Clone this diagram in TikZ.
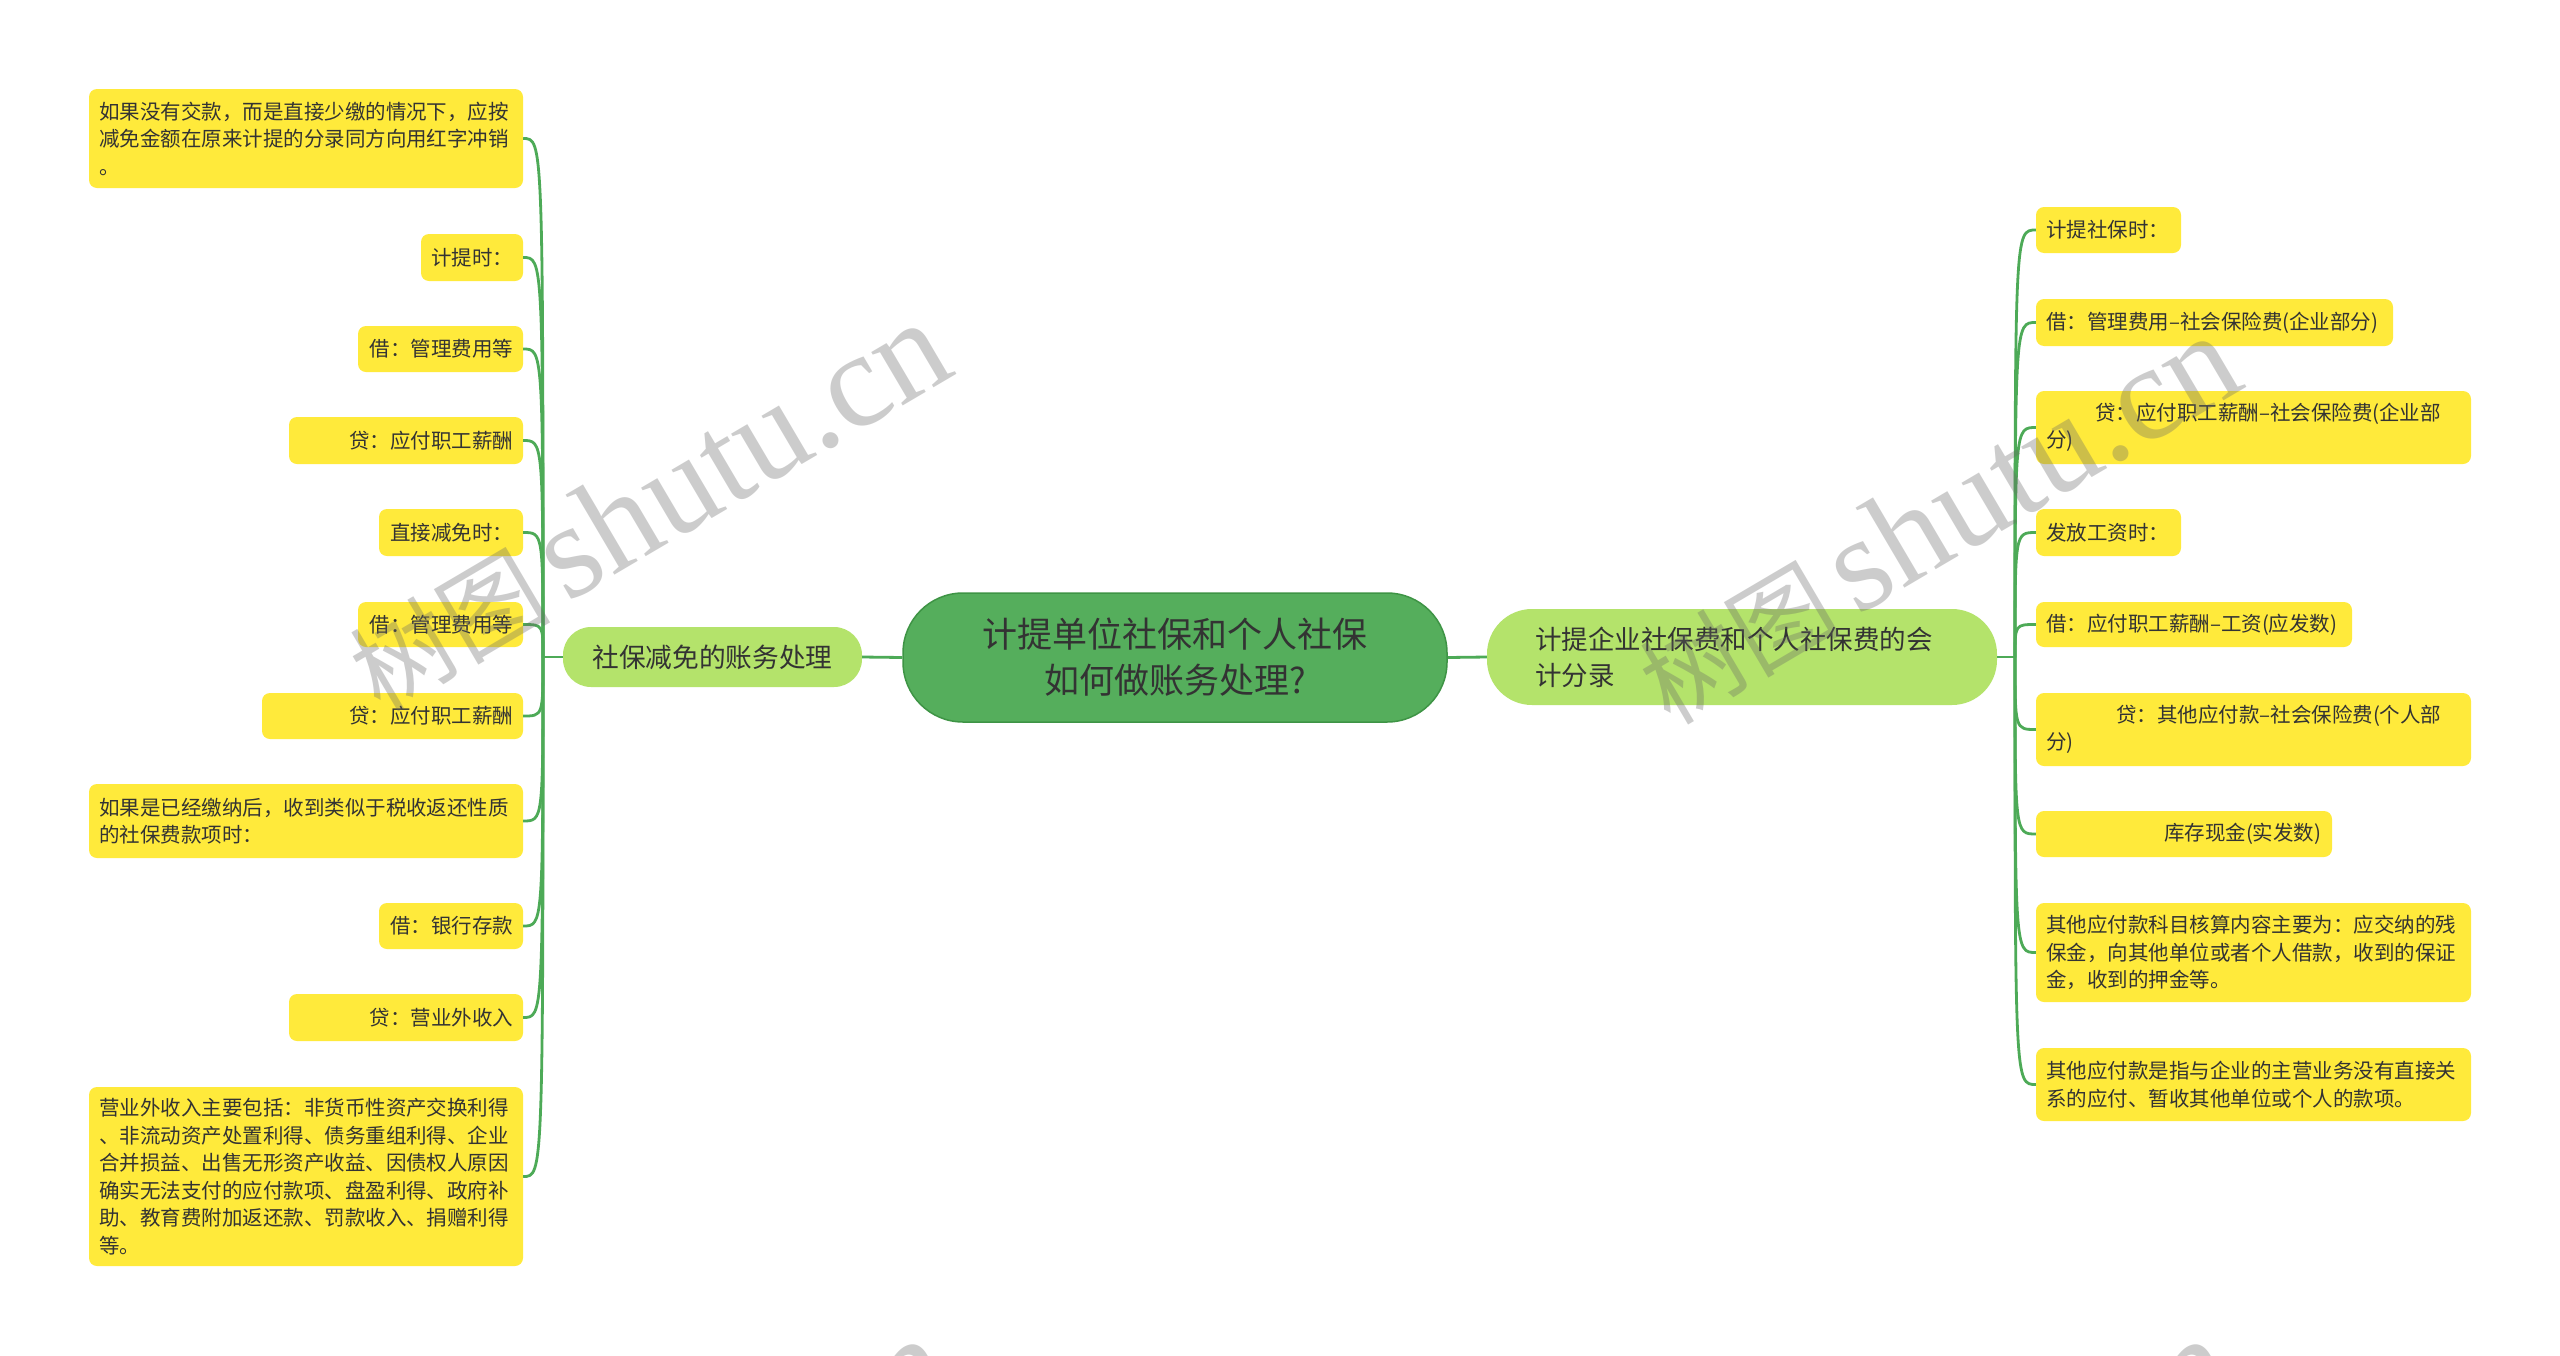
\documentclass[tikz,border=0pt]{standalone}
\usepackage{fontspec}
\setmainfont{Noto Sans CJK SC}
\newfontfamily\wmserif{Liberation Serif}
\newfontfamily\wmcjk{Noto Sans CJK SC}
\definecolor{leafy}{HTML}{FFEA3B}
\definecolor{maingreen}{HTML}{55AE5C}
\definecolor{mainborder}{HTML}{3E9445}
\definecolor{subgreen}{HTML}{B4E36B}
\definecolor{connc}{HTML}{4DAA57}
\definecolor{textc}{HTML}{333333}
\tikzset{
  leaf/.style={fill=leafy, rounded corners=8pt, inner xsep=10pt, inner ysep=0pt,
    text=textc, font=\fontsize{20.5}{27.5}\selectfont},
  lleaf/.style={leaf, align=flush right},
  tleaf/.style={leaf, align=left},
  conn/.style={draw=connc, line width=2.8pt},
  wm/.style={text=black!60, opacity=0.33, inner sep=0pt},
}
\begin{document}
\begin{tikzpicture}[x=1pt,y=-1pt]
\useasboundingbox (0,0) rectangle (2560,1355);
\fill[white] (0,0) rectangle (2560,1355);

% central nodes
\node[fill=maingreen, draw=mainborder, line width=1.5pt, rounded corners=60pt,
  minimum width=544pt, minimum height=129pt, inner sep=0pt, text width=480pt, align=center,
  text=textc, font=\fontsize{35}{46}\selectfont] (root) at (1175,657.5)
  {计提单位社保和个人社保\\如何做账务处理?};
\node[fill=subgreen, rounded corners=28pt, minimum width=299pt, minimum height=60pt,
  inner sep=0pt, text=textc, font=\fontsize{26.7}{34}\selectfont] (lnode) at (712.5,657)
  {社保减免的账务处理};
\node[fill=subgreen, rounded corners=45pt, minimum width=510pt, minimum height=96pt,
  inner xsep=48pt, inner ysep=0pt, text width=414pt, align=left, text=textc,
  font=\fontsize{26.5}{36}\selectfont] (rnode) at (1742,657)
  {计提企业社保费和个人社保费的会\\计分录};

\coordinate (lroot) at (543,657);
\coordinate (rroot) at (2015,657);

% left leaves
\node[tleaf, minimum width=434pt, minimum height=99pt, text width=414pt] (l1) at (306,138.5)
  {如果没有交款，而是直接少缴的情况下，应按\\减免金额在原来计提的分录同方向用红字冲销\\。};
\node[lleaf, minimum width=102pt, minimum height=47pt, text width=82pt] (l2) at (472,257.5) {计提时：};
\node[lleaf, minimum width=165pt, minimum height=46pt, text width=145pt] (l3) at (440.5,349) {借：管理费用等};
\node[lleaf, minimum width=234pt, minimum height=47pt, text width=214pt] (l4) at (406,440.5) {贷：应付职工薪酬};
\node[lleaf, minimum width=144pt, minimum height=47pt, text width=124pt] (l5) at (451,532.5) {直接减免时：};
\node[lleaf, minimum width=165pt, minimum height=45pt, text width=145pt] (l6) at (440.5,624.5) {借：管理费用等};
\node[lleaf, minimum width=261pt, minimum height=46pt, text width=241pt] (l7) at (392.5,716) {贷：应付职工薪酬};
\node[tleaf, minimum width=434pt, minimum height=74pt, text width=414pt] (l8) at (306,821)
  {如果是已经缴纳后，收到类似于税收返还性质\\的社保费款项时：};
\node[lleaf, minimum width=144pt, minimum height=46pt, text width=124pt] (l9) at (451,926) {借：银行存款};
\node[lleaf, minimum width=234pt, minimum height=47pt, text width=214pt] (l10) at (406,1017.5) {贷：营业外收入};
\node[tleaf, minimum width=434pt, minimum height=179pt, text width=414pt] (l11) at (306,1176.5)
  {营业外收入主要包括：非货币性资产交换利得\\、非流动资产处置利得、债务重组利得、企业\\合并损益、出售无形资产收益、因债权人原因\\确实无法支付的应付款项、盘盈利得、政府补\\助、教育费附加返还款、罚款收入、捐赠利得\\等。};

% right leaves
\node[tleaf, minimum width=145pt, minimum height=46pt, text width=125pt] (r1) at (2108.5,230) {计提社保时：};
\node[tleaf, minimum width=357pt, minimum height=47pt, text width=337pt] (r2) at (2214.5,322.5) {借：管理费用–社会保险费(企业部分)};
\node[tleaf, minimum width=435pt, minimum height=73pt, text width=415pt] (r3) at (2253.5,427.5)
  {\hspace*{49pt}贷：应付职工薪酬–社会保险费(企业部\\分)};
\node[tleaf, minimum width=145pt, minimum height=47pt, text width=125pt] (r4) at (2108.5,532.5) {发放工资时：};
\node[tleaf, minimum width=316pt, minimum height=45pt, text width=296pt] (r5) at (2194,624.5) {借：应付职工薪酬–工资(应发数)};
\node[tleaf, minimum width=435pt, minimum height=73pt, text width=415pt] (r6) at (2253.5,729.5)
  {\hspace*{70pt}贷：其他应付款–社会保险费(个人部\\分)};
\node[tleaf, minimum width=296pt, minimum height=46pt, text width=276pt] (r7) at (2184,834) {\hspace*{118pt}库存现金(实发数)};
\node[tleaf, minimum width=435pt, minimum height=99pt, text width=415pt] (r8) at (2253.5,952.5)
  {其他应付款科目核算内容主要为：应交纳的残\\保金，向其他单位或者个人借款，收到的保证\\金，收到的押金等。};
\node[tleaf, minimum width=435pt, minimum height=73pt, text width=415pt] (r9) at (2253.5,1084.5)
  {其他应付款是指与企业的主营业务没有直接关\\系的应付、暂收其他单位或个人的款项。};

% connectors
\draw[conn] (lnode.east) -- (root.west);
\draw[conn] (root.east) -- (rnode.west);
\draw[conn] (lnode.west) -- (lroot);
\draw[conn] (rnode.east) -- (rroot);
\foreach \n in {l1,l2,l3,l4,l5,l6,l7,l8,l9,l10,l11}
  \draw[conn] (lroot) .. controls (lroot |- \n.east) .. (\n.east);
\foreach \n in {r1,r2,r3,r4,r5,r6,r7,r8,r9}
  \draw[conn] (rroot) .. controls (rroot |- \n.west) .. (\n.west);

% watermarks
\begin{scope}
\clip (0,0) rectangle (2560,1355);
\foreach \p/\q in {648/506, 1938/519, 648/1522, 1931/1522}
  \node[wm, rotate=30.5] (wm\p) at (\p,\q) {\wmcjk\fontsize{100}{100}\selectfont 树图\,\wmserif\fontsize{135}{135}\selectfont shutu.cn};
\end{scope}
\end{tikzpicture}
\end{document}
